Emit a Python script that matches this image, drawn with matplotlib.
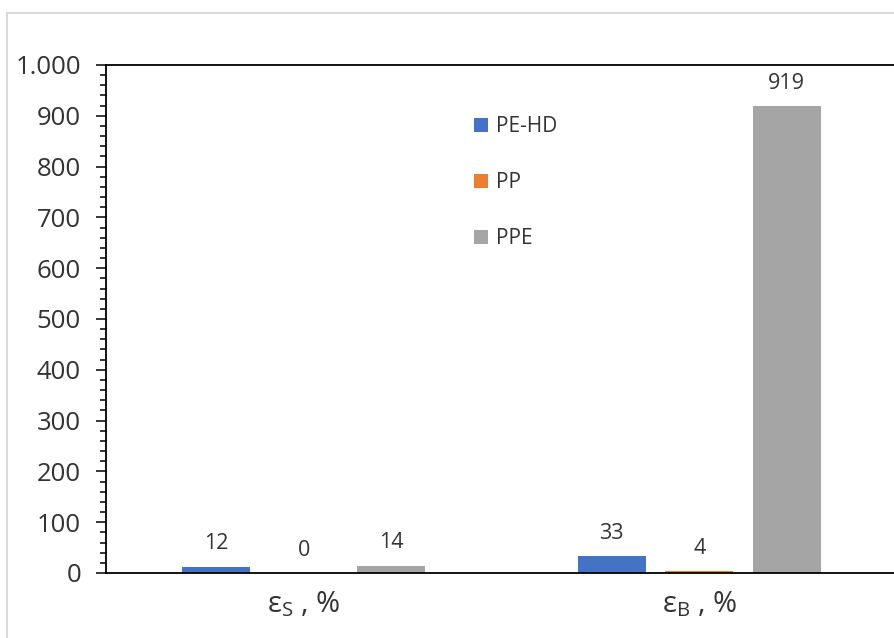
import numpy as np
import matplotlib
matplotlib.use("Agg")
import matplotlib.pyplot as plt
from matplotlib.lines import Line2D
from matplotlib.ticker import MultipleLocator, FuncFormatter

plt.rcParams['font.family'] = ['Open Sans', 'DejaVu Sans']
plt.rcParams['mathtext.fontset'] = 'custom'
plt.rcParams['mathtext.rm'] = 'Open Sans'

categories = ['$\\mathregular{ε_S}$ , %', '$\\mathregular{ε_B}$ , %']
series = ['PE-HD', 'PP', 'PPE']
values = {
    'PE-HD': [12, 33],
    'PP': [0, 4],
    'PPE': [14, 919],
}
colors = ['#4472C4', '#ED7D31', '#A5A5A5']

W, H = 894, 638
fig = plt.figure(figsize=(W / 100, H / 100), dpi=100)
ax = fig.add_axes([106 / W, 1 - 573 / H, 791 / W, (573 - 65) / H])

x = np.arange(len(categories))
bw = 0.172
step = 0.2215
for i, (name, col) in enumerate(zip(series, colors)):
    pos = x + (i - 1) * step
    ax.bar(pos, values[name], width=bw, color=col, label=name, zorder=2)
    for xp, v in zip(pos, values[name]):
        ax.annotate(str(v), (xp, v), xytext=(0, 16.5), textcoords='offset points',
                    ha='center', va='center', fontsize=15.5, color='#333333')

ax.set_xlim(-0.5, 1.5)
ax.set_ylim(0, 1000)
ax.yaxis.set_major_locator(MultipleLocator(100))
ax.yaxis.set_minor_locator(MultipleLocator(20))
ax.yaxis.set_major_formatter(FuncFormatter(lambda v, p: f"{v:,.0f}".replace(",", ".")))
ax.tick_params(axis='y', which='major', length=7, width=1.1, pad=11,
               labelsize=18.5, labelcolor='#333333')
ax.tick_params(axis='y', which='minor', length=4.3, width=1.1)
ax.set_xticks(x)
ax.set_xticklabels(categories)
ax.tick_params(axis='x', length=0, pad=12, labelsize=21, labelcolor='#333333')

for s in ['left', 'top', 'bottom', 'right']:
    ax.spines[s].set_linewidth(1.3)
    ax.spines[s].set_color('black')

ax.legend(loc='upper left', bbox_to_anchor=(474 / W, 1 - 116 / H),
          bbox_transform=fig.transFigure, frameon=False, fontsize=15,
          handlelength=0.65, handleheight=0.65, handletextpad=0.4,
          labelspacing=1.68, borderpad=0, borderaxespad=0, labelcolor='#333333')

# outer chart frame
fig.add_artist(Line2D([7 / W, 7 / W], [0, 1 - 13 / H], transform=fig.transFigure,
                      color='#d9d9d9', lw=1.5))
fig.add_artist(Line2D([7 / W, 1], [1 - 13 / H, 1 - 13 / H], transform=fig.transFigure,
                      color='#d9d9d9', lw=1.5))

fig.savefig('out.png', dpi=100)
